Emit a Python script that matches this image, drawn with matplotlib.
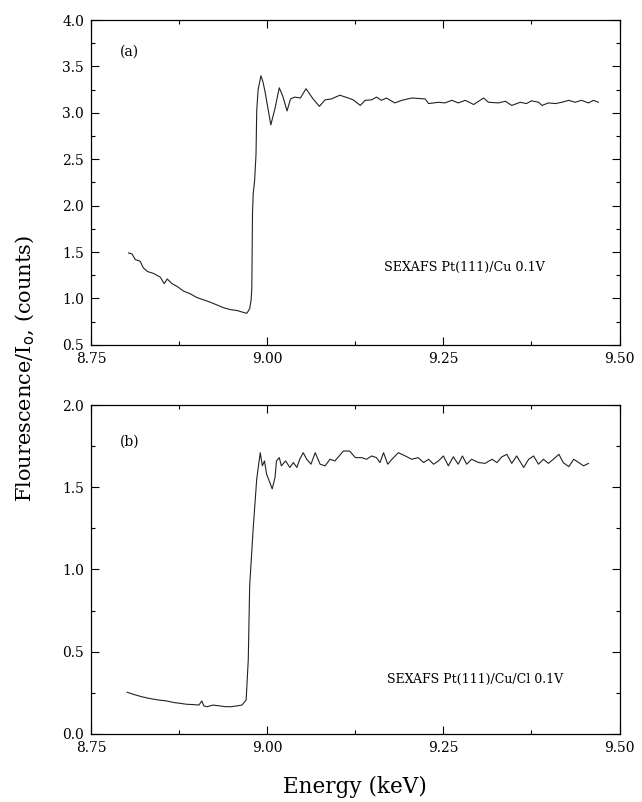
import matplotlib
matplotlib.use("Agg")
import matplotlib.pyplot as plt
from matplotlib.ticker import MultipleLocator, FormatStrFormatter

# panel (a): SEXAFS Pt(111)/Cu 0.1V
energy_a = [8.803, 8.808, 8.8125, 8.8196, 8.824, 8.830, 8.8385, 8.848, 8.8537, 8.858,
            8.8646, 8.872, 8.881, 8.8906, 8.900, 8.9095, 8.919, 8.9285, 8.938, 8.9474,
            8.957, 8.966, 8.971, 8.975, 8.977, 8.978, 8.979, 8.980, 8.982, 8.984,
            8.985, 8.987, 8.991, 8.994, 8.997, 9.005, 9.011, 9.017, 9.022, 9.028,
            9.033, 9.039, 9.047, 9.055, 9.065, 9.074, 9.082, 9.091, 9.103, 9.115,
            9.122, 9.132, 9.139, 9.148, 9.155, 9.162, 9.169, 9.181, 9.191, 9.205,
            9.224, 9.229, 9.243, 9.252, 9.262, 9.271, 9.281, 9.293, 9.307, 9.314,
            9.328, 9.338, 9.347, 9.359, 9.368, 9.375, 9.385, 9.390, 9.399, 9.409,
            9.418, 9.428, 9.437, 9.446, 9.456, 9.463, 9.470]
counts_a = [1.49, 1.48, 1.42, 1.40, 1.33, 1.29, 1.27, 1.23, 1.16, 1.21,
            1.16, 1.13, 1.08, 1.05, 1.01, 0.985, 0.96, 0.93, 0.90, 0.88,
            0.87, 0.85, 0.84, 0.89, 0.98, 1.10, 1.91, 2.13, 2.27, 2.55,
            3.02, 3.25, 3.40, 3.33, 3.22, 2.87, 3.05, 3.27, 3.18, 3.02,
            3.15, 3.17, 3.16, 3.26, 3.15, 3.07, 3.14, 3.15, 3.19, 3.16,
            3.14, 3.08, 3.135, 3.14, 3.17, 3.135, 3.16, 3.107, 3.135, 3.16,
            3.15, 3.10, 3.114, 3.107, 3.135, 3.107, 3.135, 3.09, 3.16, 3.114,
            3.107, 3.125, 3.08, 3.114, 3.10, 3.13, 3.114, 3.08, 3.107, 3.10,
            3.114, 3.135, 3.114, 3.135, 3.107, 3.135, 3.114]

# panel (b): SEXAFS Pt(111)/Cu/Cl 0.1V
energy_b = [8.801, 8.810, 8.8215, 8.833, 8.845, 8.857, 8.868, 8.877, 8.885, 8.894,
            8.903, 8.907, 8.910, 8.9145, 8.923, 8.932, 8.941, 8.949, 8.957, 8.964,
            8.970, 8.973, 8.975, 8.980, 8.985, 8.990, 8.993, 8.996, 8.999, 9.007,
            9.011, 9.013, 9.017, 9.020, 9.026, 9.032, 9.037, 9.042, 9.046, 9.051,
            9.056, 9.062, 9.068, 9.075, 9.082, 9.089, 9.096, 9.101, 9.108, 9.117,
            9.125, 9.134, 9.141, 9.148, 9.155, 9.160, 9.165, 9.171, 9.177, 9.186,
            9.196, 9.205, 9.214, 9.222, 9.229, 9.236, 9.243, 9.250, 9.257, 9.264,
            9.271, 9.277, 9.283, 9.290, 9.300, 9.309, 9.319, 9.326, 9.333, 9.340,
            9.347, 9.354, 9.364, 9.371, 9.378, 9.385, 9.392, 9.399, 9.406, 9.414,
            9.420, 9.428, 9.435, 9.442, 9.449, 9.456]
counts_b = [0.253, 0.24, 0.226, 0.215, 0.206, 0.20, 0.19, 0.185, 0.18, 0.178,
            0.175, 0.20, 0.17, 0.165, 0.175, 0.17, 0.165, 0.165, 0.17, 0.175,
            0.206, 0.45, 0.90, 1.25, 1.55, 1.71, 1.63, 1.66, 1.58, 1.49,
            1.56, 1.66, 1.68, 1.63, 1.66, 1.62, 1.65, 1.62, 1.67, 1.71,
            1.67, 1.64, 1.71, 1.64, 1.63, 1.67, 1.66, 1.685, 1.72, 1.72,
            1.68, 1.68, 1.67, 1.69, 1.68, 1.65, 1.71, 1.64, 1.67, 1.71,
            1.69, 1.67, 1.68, 1.65, 1.67, 1.64, 1.66, 1.69, 1.63, 1.685,
            1.64, 1.69, 1.64, 1.67, 1.65, 1.645, 1.67, 1.65, 1.685, 1.70,
            1.645, 1.69, 1.62, 1.67, 1.69, 1.64, 1.67, 1.645, 1.67, 1.70,
            1.65, 1.625, 1.67, 1.65, 1.63, 1.645]

x_ticks = [8.75, 9.00, 9.25, 9.50]
x_tick_labels = ["8.75", "9.00", "9.25", "9.50"]

plt.rcParams["font.family"] = ["DejaVu Serif"]

fig = plt.figure(figsize=(6.42, 8.02), dpi=100)
ax_a = fig.add_axes([0.142, 0.57, 0.823, 0.405])
ax_b = fig.add_axes([0.142, 0.085, 0.823, 0.41])


def style_axis(ax, ylim, ystep):
    ax.set_xlim(8.75, 9.50)
    ax.set_ylim(*ylim)
    ax.set_xticks(x_ticks)
    ax.set_xticklabels(x_tick_labels)
    ax.xaxis.set_minor_locator(MultipleLocator(0.125))
    ax.yaxis.set_major_locator(MultipleLocator(ystep))
    ax.yaxis.set_minor_locator(MultipleLocator(ystep / 2))
    ax.yaxis.set_major_formatter(FormatStrFormatter("%.1f"))
    ax.tick_params(which="both", direction="in", top=True, right=True,
                   labelsize=10, width=0.8, pad=5)
    ax.tick_params(which="major", length=6)
    ax.tick_params(which="minor", length=3)
    for spine in ax.spines.values():
        spine.set_linewidth(0.9)


ax_a.plot(energy_a, counts_a, color="#222222", linewidth=0.8)
style_axis(ax_a, (0.5, 4.0), 0.5)
ax_a.text(8.805, 3.66, "(a)", fontsize=10, ha="center", va="center")
ax_a.text(9.165, 1.33, "SEXAFS Pt(111)/Cu 0.1V", fontsize=9.2, ha="left", va="center")

ax_b.plot(energy_b, counts_b, color="#222222", linewidth=0.8)
style_axis(ax_b, (0.0, 2.0), 0.5)
ax_b.text(8.805, 1.775, "(b)", fontsize=10, ha="center", va="center")
ax_b.text(9.17, 0.33, "SEXAFS Pt(111)/Cu/Cl 0.1V", fontsize=9.0, ha="left", va="center")

ax_b.set_xlabel("Energy (keV)", fontsize=15.5, labelpad=15)
fig.text(0.039, 0.54, "Flourescence/I$_\\mathrm{o}$, (counts)", rotation=90,
         fontsize=15, ha="center", va="center")

fig.savefig("out.png", dpi=100)
